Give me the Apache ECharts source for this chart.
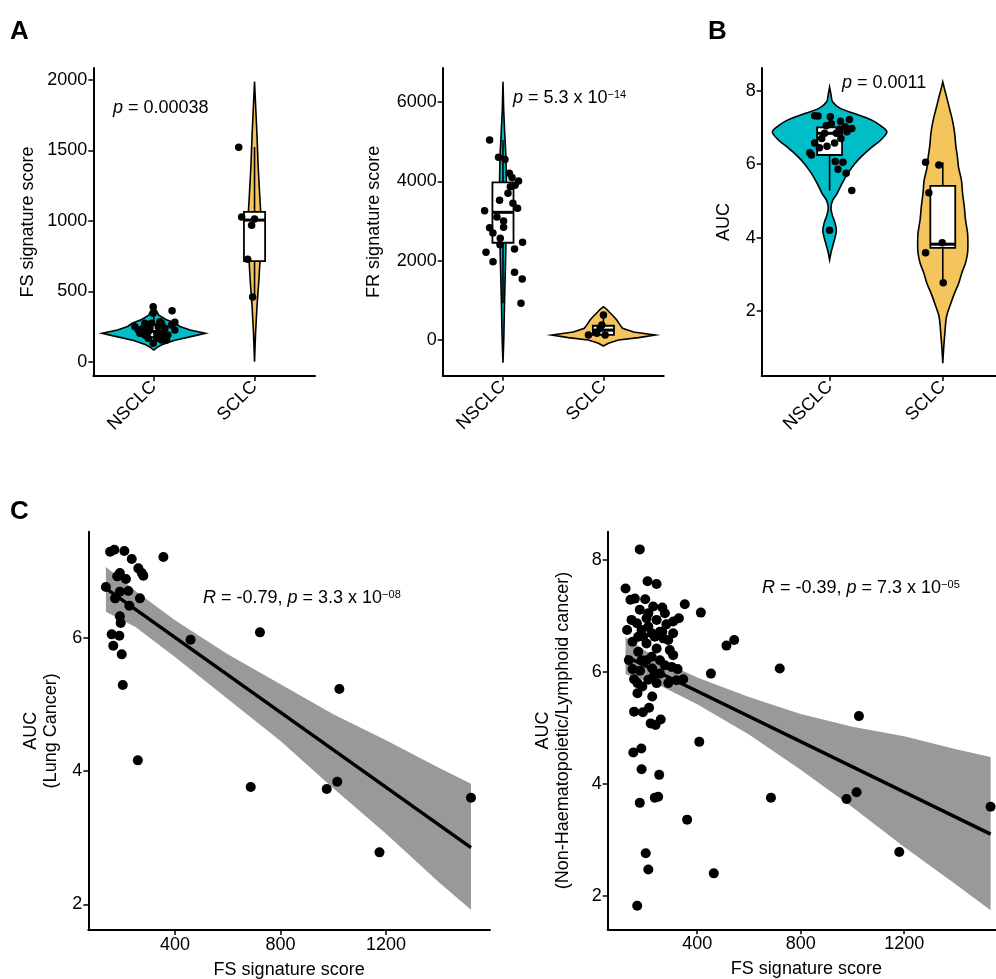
<!DOCTYPE html>
<html>
<head>
<meta charset="utf-8">
<title>FS / FR signature score</title>
<script src="https://cdn.jsdelivr.net/npm/echarts@6/dist/echarts.min.js"></script>
<style>
  html, body { margin: 0; padding: 0; background: #fff; }
  #main { width: 996px; height: 979px; }
</style>
</head>
<body>
<div id="main"></div>
<script>
// ---- data ----
const groups = ['NSCLC', 'SCLC'];

// A (left): FS signature score, points as [jittered group position, value]
const fsNSCLC = [[0.994,391],[1.182,362],[0.994,344],[1.209,280],[1.06,284],[0.912,273],[0.813,249],[0.961,237],[1.11,237],[0.862,202],[1.03,202],[1.14,190],[0.945,166],[1.077,154],[0.895,237],[0.994,131],[1.176,261],[1.044,249],[0.912,190],[1.093,202],[0.846,225],[0.978,273],[1.127,154],[1.028,166],[0.945,213],[1.209,225],[1.077,273]];
const fsSCLC = [[1.843,1524],[1.872,1027],[1.971,970],[2.0,1013],[1.932,728],[1.981,460]];
// violin outlines: [value, half width in group units]
const fsViolinNSCLC = [[83,0],[100,0.03],[120,0.08],[150,0.2],[180,0.38],[202,0.512],[225,0.36],[250,0.26],[273,0.215],[300,0.12],[330,0.05],[370,0.02],[403,0]];
const fsViolinSCLC = [[0,0],[200,0.01],[400,0.025],[600,0.045],[800,0.06],[1000,0.066],[1200,0.05],[1400,0.035],[1600,0.025],[1800,0.012],[1990,0]];
// boxes: [group, q1, median, q3, lower whisker, upper whisker]
const fsBoxes = [[1,175,215,265,131,391],[2,715,1006,1064,460,1524]];

// A (right): FR signature score
const frNSCLC = [[0.867,5044],[0.956,4607],[1.063,4204],[1.155,4010],[1.073,3866],[0.966,3523],[1.099,3447],[1.145,3321],[0.817,3261],[1.006,3001],[1.006,2842],[0.867,2833],[0.973,2565],[1.195,2464],[1.115,2295],[0.831,2212],[0.901,1975],[1.115,1707],[1.192,1538],[1.179,926],[1.02,4550],[1.09,4100],[0.94,3100],[1.05,3700],[0.9,2700],[1.12,3900],[0.97,2400]];
const frSCLC = [[2.0,630],[1.984,378],[1.934,168],[1.851,126],[2.017,126],[1.967,295]];
const frViolinNSCLC = [[-572,0],[0,0.008],[1000,0.016],[2000,0.026],[3000,0.034],[4000,0.034],[4600,0.03],[5200,0.018],[5800,0.007],[6510,0]];
const frViolinSCLC = [[-150,0],[-80,0.05],[0,0.15],[60,0.35],[126,0.514],[200,0.3],[295,0.19],[400,0.16],[504,0.133],[600,0.1],[700,0.06],[780,0.03],[840,0]];
const frBoxes = [[1,2453,3220,3975,926,5044],[2,130,250,360,126,630]];

// B: AUC
const aucNSCLC = [[0.868,7.32],[0.898,7.31],[1.006,7.29],[1.096,7.17],[1.175,7.22],[1.138,7.02],[1.196,6.97],[1.153,6.88],[0.956,6.84],[1.059,6.84],[0.868,6.58],[0.977,6.49],[1.044,6.58],[0.825,6.31],[0.839,6.25],[1.05,6.07],[1.118,6.05],[1.074,5.86],[1.146,5.75],[1.196,5.28],[1.0,4.2],[1.015,7.1],[0.93,6.7],[1.1,6.7],[0.97,7.05],[1.085,6.95],[0.91,6.45]];
const aucSCLC = [[1.848,6.05],[1.965,5.98],[1.877,5.22],[1.848,3.59],[1.995,3.86],[2.004,2.77]];
const aucViolinNSCLC = [[3.39,0],[3.6,0.013],[3.8,0.03],[4.0,0.048],[4.2,0.06],[4.4,0.048],[4.6,0.025],[4.8,0.012],[5.0,0.025],[5.2,0.066],[5.5,0.114],[5.75,0.161],[6.0,0.219],[6.2,0.278],[6.45,0.368],[6.66,0.453],[6.88,0.506],[7.05,0.45],[7.2,0.373],[7.38,0.22],[7.52,0.095],[7.7,0.026],[7.9,0.012],[8.1,0]];
const aucViolinSCLC = [[0.58,0],[1.0,0.008],[1.39,0.018],[1.85,0.033],[2.2,0.07],[2.48,0.103],[2.75,0.14],[3.03,0.167],[3.3,0.2],[3.58,0.219],[3.85,0.222],[4.12,0.219],[4.5,0.2],[4.84,0.19],[5.2,0.175],[5.56,0.165],[5.9,0.14],[6.2,0.129],[6.5,0.115],[6.84,0.105],[7.2,0.085],[7.47,0.063],[7.84,0.033],[8.05,0.015],[8.24,0]];
const aucBoxes = [[1,6.25,6.84,7.0,5.28,7.32],[2,3.72,3.82,5.41,2.77,6.05]];

// C (left): lung cancer lines, [FS score, AUC]
const lungPoints = [[138,6.76],[154,7.29],[170,7.32],[208,7.30],[236,7.18],[356,7.21],[261,7.04],[274,6.97],[280,6.93],[191,6.97],[181,6.92],[214,6.88],[191,6.69],[223,6.70],[173,6.59],[267,6.59],[227,6.48],[191,6.32],[194,6.22],[160,6.05],[189,6.03],[459,5.97],[722,6.08],[166,5.88],[198,5.75],[202,5.29],[1023,5.23],[259,4.16],[687,3.76],[975,3.73],[1015,3.84],[1522,3.60],[1175,2.78]];
const lungFit = [[138,6.74],[1522,2.85]];
const lungBandX = [138, 250, 400, 600, 800, 1000, 1200, 1400, 1522];
const lungBandLo = [6.39, 6.16, 5.71, 5.08, 4.45, 3.74, 3.06, 2.33, 1.92];
const lungBandHi = [7.06, 6.70, 6.26, 5.75, 5.30, 4.85, 4.46, 4.05, 3.81];

// C (right): non-haematopoietic/lymphoid lines
const solidPoints = [[178,8.19],[123,7.49],[208,7.62],[243,7.57],[142,7.29],[159,7.31],[199,7.30],[352,7.21],[414,7.06],[230,7.17],[265,7.15],[146,6.93],[167,6.87],[204,6.96],[243,6.93],[281,6.85],[307,6.90],[329,6.96],[129,6.75],[185,6.75],[224,6.69],[269,6.60],[288,6.57],[150,6.54],[204,6.51],[513,6.47],[543,6.57],[243,6.42],[294,6.39],[172,6.36],[204,6.21],[256,6.21],[275,6.12],[324,6.05],[150,6.05],[179,6.02],[226,6.06],[453,5.97],[719,6.06],[230,5.91],[346,5.87],[288,5.80],[156,5.87],[169,5.80],[188,5.74],[226,5.56],[156,5.29],[190,5.28],[214,5.36],[220,5.08],[239,5.05],[259,5.15],[1025,5.21],[153,4.56],[184,4.63],[408,4.75],[185,4.26],[253,4.16],[236,3.75],[249,3.77],[685,3.75],[977,3.73],[1016,3.85],[1534,3.59],[178,3.66],[361,3.36],[201,2.76],[211,2.47],[464,2.40],[1181,2.78],[168,1.82],[211,7.05],[256,6.72],[307,6.69],[191,6.63],[236,6.63],[172,6.63],[265,6.72],[224,6.27],[185,6.21],[307,6.30],[256,5.97],[211,5.86],[301,6.09],[243,5.80],[169,5.62],[320,5.85],[136,6.21],[211,6.81],[275,7.05],[178,7.11]];
const solidFit = [[123,6.28],[1534,3.10]];
const solidBandX = [123, 250, 400, 600, 800, 1000, 1200, 1400, 1534];
const solidBandLo = [5.96, 5.77, 5.42, 4.88, 4.25, 3.58, 2.87, 2.20, 1.74];
const solidBandHi = [6.62, 6.22, 5.90, 5.55, 5.25, 5.02, 4.85, 4.62, 4.48];

// ---- styling ----
const FONT = 'Liberation Sans, Arial, sans-serif';
const CYAN = '#00BDC8';
const GOLD = '#F4C55C';

const chart = echarts.init(document.getElementById('main'));

function groupAxis(grid) {
  return {
    type: 'value', gridIndex: grid, min: 0.4, max: 2.6,
    axisLine: { show: true, onZero: false, lineStyle: { color: '#000', width: 2 } },
    axisTick: { show: true, customValues: [1, 2], length: 5, lineStyle: { color: '#000', width: 1.5 } },
    axisLabel: {
      customValues: [1, 2], rotate: 45, margin: 8, color: '#000', fontSize: 18, fontFamily: FONT,
      formatter: v => groups[Math.round(v) - 1]
    },
    splitLine: { show: false }
  };
}

function valAxis(grid, min, max, ticks, name, gap, extra) {
  return Object.assign({
    type: 'value', gridIndex: grid, min: min, max: max,
    name: name, nameLocation: 'middle', nameGap: gap,
    nameTextStyle: { color: '#000', fontSize: 18, fontFamily: FONT, lineHeight: 20 },
    axisLine: { show: true, onZero: false, lineStyle: { color: '#000', width: 2 } },
    axisTick: { show: true, customValues: ticks, length: 5, lineStyle: { color: '#000', width: 1.5 } },
    axisLabel: { customValues: ticks, margin: 6, color: '#000', fontSize: 18, fontFamily: FONT,
      formatter: v => String(v) },
    splitLine: { show: false }
  }, extra || {});
}

function violin(grid, center, outline, color, smooth) {
  return {
    type: 'custom', xAxisIndex: grid, yAxisIndex: grid, silent: true, z: 1,
    data: [[center, outline[0][0]]],
    renderItem: function (params, api) {
      const right = outline.map(p => api.coord([center + p[1], p[0]]));
      const left = outline.map(p => api.coord([center - p[1], p[0]])).reverse();
      return {
        type: 'polygon',
        shape: { points: right.concat(left), smooth: smooth },
        style: { fill: color, stroke: '#000', lineWidth: 1.6 }
      };
    }
  };
}

function boxes(grid, data, half) {
  return {
    type: 'custom', xAxisIndex: grid, yAxisIndex: grid, silent: true, z: 2,
    data: data,
    renderItem: function (params, api) {
      const c = api.value(0);
      const lo = api.coord([c, api.value(4)]);
      const q1 = api.coord([c, api.value(1)]);
      const q3 = api.coord([c, api.value(3)]);
      const hi = api.coord([c, api.value(5)]);
      const tl = api.coord([c - half, api.value(3)]);
      const br = api.coord([c + half, api.value(1)]);
      const ml = api.coord([c - half, api.value(2)]);
      const mr = api.coord([c + half, api.value(2)]);
      const ls = { stroke: '#000', lineWidth: 1.6 };
      return {
        type: 'group',
        children: [
          { type: 'line', shape: { x1: lo[0], y1: lo[1], x2: q1[0], y2: q1[1] }, style: ls },
          { type: 'line', shape: { x1: q3[0], y1: q3[1], x2: hi[0], y2: hi[1] }, style: ls },
          { type: 'rect', shape: { x: tl[0], y: tl[1], width: br[0] - tl[0], height: br[1] - tl[1] },
            style: { fill: '#fff', stroke: '#000', lineWidth: 1.8 } },
          { type: 'line', shape: { x1: ml[0], y1: ml[1], x2: mr[0], y2: mr[1] },
            style: { stroke: '#000', lineWidth: 3 } }
        ]
      };
    }
  };
}

function dots(grid, data, size) {
  return {
    type: 'scatter', xAxisIndex: grid, yAxisIndex: grid, data: data, symbolSize: size,
    itemStyle: { color: '#000', opacity: 1 }, silent: true, z: 5
  };
}

function band(grid, xs, lo, hi) {
  return {
    type: 'custom', xAxisIndex: grid, yAxisIndex: grid, silent: true, z: 1,
    data: [[xs[0], lo[0]]],
    renderItem: function (params, api) {
      const top = xs.map((x, i) => api.coord([x, hi[i]]));
      const bottom = xs.map((x, i) => api.coord([x, lo[i]])).reverse();
      return {
        type: 'polygon',
        shape: { points: top.concat(bottom) },
        style: { fill: '#999999' }
      };
    }
  };
}

function fit(grid, data) {
  return {
    type: 'line', xAxisIndex: grid, yAxisIndex: grid, data: data, showSymbol: false,
    lineStyle: { color: '#000', width: 3.5 }, silent: true, z: 3
  };
}

function label(x, y, text, size, bold) {
  return {
    type: 'text', x: x, y: y, silent: true,
    style: {
      text: text, fill: '#000', fontSize: size, fontFamily: FONT,
      fontWeight: bold ? 'bold' : 'normal', align: 'left', verticalAlign: 'middle',
      rich: {
        i: { fontStyle: 'italic', fontSize: size, fontFamily: FONT, fill: '#000' },
        s: { fontSize: 11, fontFamily: FONT, fill: '#000', verticalAlign: 'top' }
      }
    }
  };
}

const option = {
  animation: false,
  backgroundColor: '#fff',
  grid: [
    { left: 93.3, top: 68, width: 221.7, height: 308, outerBoundsMode: 'none' },
    { left: 442.7, top: 68, width: 221, height: 307.7, outerBoundsMode: 'none' },
    { left: 761.7, top: 68, width: 249, height: 308, outerBoundsMode: 'none' },
    { left: 88.3, top: 531.7, width: 401.7, height: 398.3, outerBoundsMode: 'none' },
    { left: 607.7, top: 531.7, width: 397.4, height: 397.6, outerBoundsMode: 'none' }
  ],
  xAxis: [
    groupAxis(0),
    groupAxis(1),
    groupAxis(2),
    valAxis(3, 71.3, 1594, [400, 800, 1200], 'FS signature score', 30),
    valAxis(4, 54, 1590, [400, 800, 1200], 'FS signature score', 30)
  ],
  yAxis: [
    valAxis(0, -101.6, 2086, [0, 500, 1000, 1500, 2000], 'FS signature score', 55),
    valAxis(1, -900, 6860, [0, 2000, 4000, 6000], 'FR signature score', 59),
    valAxis(2, 0.229, 8.62, [2, 4, 6, 8], 'AUC', 28),
    valAxis(3, 1.615, 7.59, [2, 4, 6], 'AUC\n(Lung Cancer)', 27),
    valAxis(4, 1.4, 8.506, [2, 4, 6, 8], 'AUC\n(Non-Haematopoietic/Lymphoid cancer)', 35)
  ],
  series: [
    violin(0, 1, fsViolinNSCLC, CYAN, 0),
    violin(0, 2, fsViolinSCLC, GOLD, 0),
    boxes(0, fsBoxes, 0.105),
    dots(0, fsNSCLC, 7.5),
    dots(0, fsSCLC, 7.5),

    violin(1, 1, frViolinNSCLC, CYAN, 0),
    violin(1, 2, frViolinSCLC, GOLD, 0),
    boxes(1, frBoxes, 0.105),
    dots(1, frNSCLC, 7.5),
    dots(1, frSCLC, 7.5),

    violin(2, 1, aucViolinNSCLC, CYAN, 0.3),
    violin(2, 2, aucViolinSCLC, GOLD, 0.3),
    boxes(2, aucBoxes, 0.11),
    dots(2, aucNSCLC, 7.5),
    dots(2, aucSCLC, 7.5),

    band(3, lungBandX, lungBandLo, lungBandHi),
    fit(3, lungFit),
    dots(3, lungPoints, 10),

    band(4, solidBandX, solidBandLo, solidBandHi),
    fit(4, solidFit),
    dots(4, solidPoints, 10)
  ],
  graphic: [
    label(10, 31.5, 'A', 26, true),
    label(708, 31.5, 'B', 26, true),
    label(10, 511.5, 'C', 26, true),
    label(113, 108, '{i|p} = 0.00038', 18),
    label(513, 98, '{i|p} = 5.3 x 10{s|−14}', 18),
    label(842, 83, '{i|p} = 0.0011', 18),
    label(203, 598, '{i|R} = -0.79, {i|p} = 3.3 x 10{s|−08}', 18),
    label(762, 588, '{i|R} = -0.39, {i|p} = 7.3 x 10{s|−05}', 18)
  ]
};

chart.setOption(option);
</script>
</body>
</html>
